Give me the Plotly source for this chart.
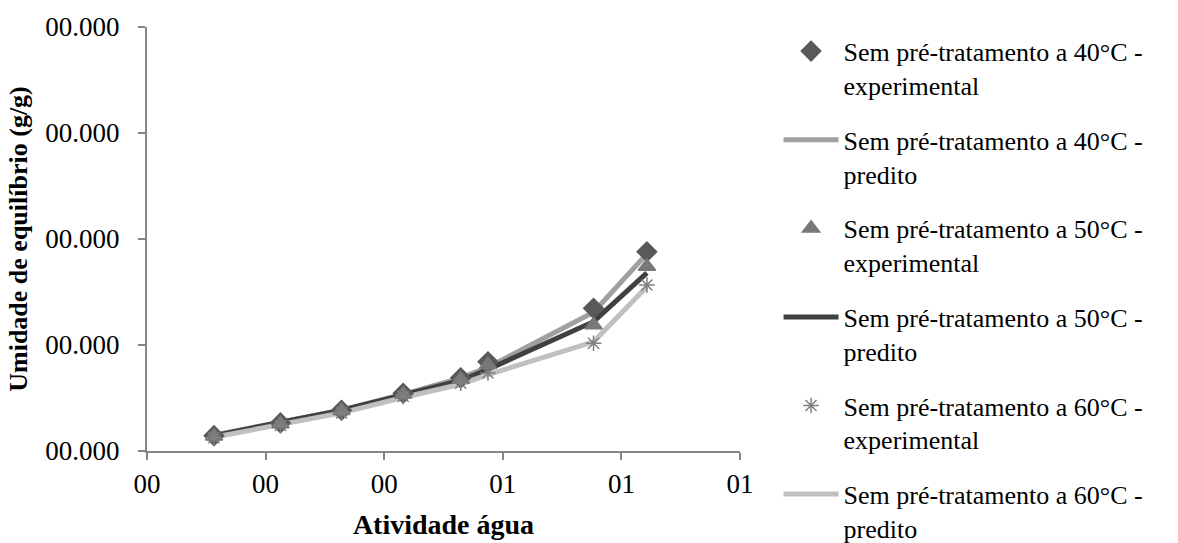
import plotly.graph_objects as go

# Water activity of each saturated-salt environment
atividade_agua = [0.113, 0.225, 0.328, 0.432, 0.529, 0.575, 0.753, 0.843]

# Equilibrium moisture (g/g) - experimental and model-predicted
exp_40 = [0.0145, 0.0265, 0.0385, 0.0545, 0.0690, 0.0842, 0.1346, 0.1880]
pred_40 = [0.0150, 0.0268, 0.0385, 0.0535, 0.0690, 0.0790, 0.1310, 0.1860]
exp_50 = [0.0140, 0.0255, 0.0380, 0.0535, 0.0675, 0.0815, 0.1189, 0.1740]
pred_50 = [0.0145, 0.0265, 0.0385, 0.0530, 0.0665, 0.0770, 0.1220, 0.1680]
exp_60 = [0.0125, 0.0240, 0.0360, 0.0515, 0.0640, 0.0736, 0.1016, 0.1566]
pred_60 = [0.0130, 0.0245, 0.0360, 0.0505, 0.0630, 0.0720, 0.1030, 0.1550]

x_ticks = [0, 0.2, 0.4, 0.6, 0.8, 1.0]
x_ticktext = ["00", "00", "00", "01", "01", "01"]
y_ticks = [0, 0.1, 0.2, 0.3, 0.4]
y_ticktext = ["00.000"] * 5

FONT = "Liberation Serif"
AXIS = "#868686"

fig = go.Figure()

# predicted curves (drawn under the markers)
lines = [
    ("Sem pré-tratamento a 40°C -<br>predito", pred_40, "#a0a0a0", 2),
    ("Sem pré-tratamento a 50°C -<br>predito", pred_50, "#404040", 4),
    ("Sem pré-tratamento a 60°C -<br>predito", pred_60, "#c0c0c0", 6),
]
for name, ys, color, rank in lines:
    fig.add_trace(go.Scatter(
        x=atividade_agua, y=ys, name=name, mode="lines",
        line=dict(color=color, width=5),
        legendgroup=name, legendrank=rank,
    ))

# experimental points
points = [
    ("Sem pré-tratamento a 40°C -<br>experimental", exp_40, "diamond", "#595959", 15, 1),
    ("Sem pré-tratamento a 50°C -<br>experimental", exp_50, "triangle-up", "#787878", 15, 3),
    ("Sem pré-tratamento a 60°C -<br>experimental", exp_60, "asterisk-open", "#7f7f7f", 13, 5),
]
for name, ys, sym, color, size, rank in points:
    fig.add_trace(go.Scatter(
        x=atividade_agua, y=ys, name=name, mode="markers",
        marker=dict(symbol=sym, color=color, size=size,
                    line=dict(color=color, width=1.5)),
        legendgroup=name, legendrank=rank,
    ))

fig.update_layout(
    width=1178, height=543,
    margin=dict(l=147, r=438, t=27, b=92, autoexpand=False),
    paper_bgcolor="white", plot_bgcolor="white",
    font=dict(family=FONT, size=27, color="black"),
    showlegend=True,
    legend=dict(
        x=1.065, xanchor="left", xref="paper",
        y=0.949, yanchor="top", yref="container",
        traceorder="grouped", tracegroupgap=18, valign="top",
        font=dict(family=FONT, size=26, color="black"),
        itemwidth=55, maxheight=1,
    ),
    xaxis=dict(
        range=[0, 1], tickvals=x_ticks, ticktext=x_ticktext,
        showgrid=False, zeroline=False, showline=True,
        linecolor=AXIS, linewidth=2, ticks="outside", ticklen=7,
        tickcolor=AXIS, tickwidth=2, ticklabelstandoff=1,
        title=dict(text="<b>Atividade água</b>", font=dict(family=FONT, size=28),
                   standoff=16),
    ),
    yaxis=dict(
        range=[0, 0.4], tickvals=y_ticks, ticktext=y_ticktext,
        showgrid=False, zeroline=False, showline=True,
        linecolor=AXIS, linewidth=2, ticks="outside", ticklen=7,
        tickcolor=AXIS, tickwidth=2, ticklabelstandoff=13,
        title=dict(text="<b>Umidade de equilíbrio (g/g)</b>", font=dict(family=FONT, size=26),
                   standoff=10),
    ),
)

fig.write_html("out.html")
